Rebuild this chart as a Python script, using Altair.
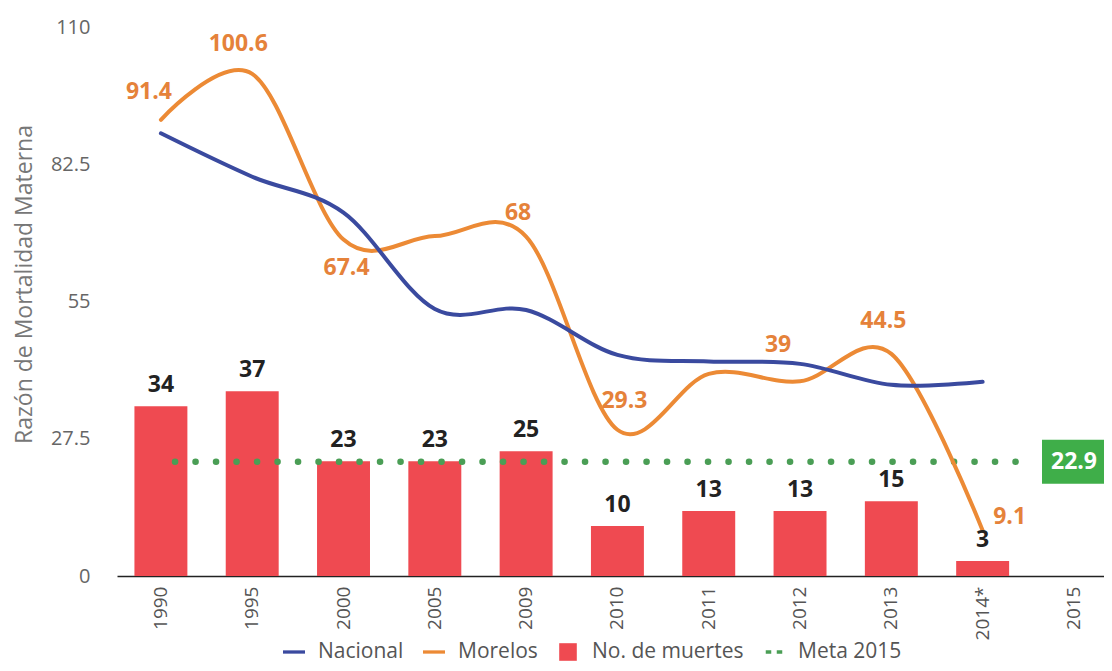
import altair as alt
import pandas as pd

years = ["1990", "1995", "2000", "2005", "2009", "2010", "2011", "2012", "2013", "2014*", "2015"]
data_years = ["1990", "1995", "2000", "2005", "2009", "2010", "2011", "2012", "2013", "2014*"]
nacional = [88.7, 80.0, 72.8, 53.5, 53.3, 44.3, 43.0, 42.5, 38.3, 38.9]
morelos = [91.4, 100.6, 67.4, 68.1, 68.0, 29.3, 40.5, 39.0, 44.5, 9.1]
muertes = [34, 37, 23, 23, 25, 10, 13, 13, 15, 3]
meta = 22.9
legend_items = ["Nacional", "Morelos", "No. de muertes", "Meta 2015"]

BLUE = "#3a4a9f"
ORANGE = "#ec8a35"
RED = "#ef4a51"
GREEN = "#4a9e55"
BOX = "#3fae49"
FONT = "Open Sans"

W, H = 987, 549

bars_df = pd.DataFrame({"year": data_years, "muertes": muertes})
lines_df = pd.DataFrame({
    "year": data_years * 2,
    "serie": ["Nacional"] * len(data_years) + ["Morelos"] * len(data_years),
    "valor": nacional + morelos,
})
mor_df = pd.DataFrame({"year": data_years, "valor": morelos,
                       "label": [f"{v:g}" for v in morelos]})
leg_df = pd.DataFrame({"item": legend_items})

x_enc = alt.X(
    "year:N", sort=years, title=None,
    scale=alt.Scale(domain=years, paddingInner=0.42, paddingOuter=0.115, align=0.83),
    axis=alt.Axis(labelAngle=-90, labelPadding=10, ticks=False, domainColor="#222",
                  domainWidth=1.5, labelFont=FONT, labelFontSize=19, labelColor="#555"),
)

Y_TITLE = "Razón de Mortalidad Materna"
y_scale = alt.Scale(domain=[0, 110], nice=False, zero=True)
y_axis = alt.Axis(values=[0, 27.5, 55, 82.5, 110], labelExpr="toString(datum.value)",
                  ticks=False, domain=False, grid=False, labelPadding=27, labelFont=FONT,
                  labelFontSize=20, labelColor="#666", titleFont=FONT, titleFontSize=23,
                  titleFontWeight="normal", titleColor="#777", titleX=-93, titleY=257,
                  titleBaseline="middle")


def y_enc(field):
    return alt.Y(field, scale=y_scale, axis=y_axis, title=Y_TITLE)


bars = alt.Chart(bars_df).mark_bar(color=RED).encode(x=x_enc, y=y_enc("muertes:Q"))
bar_labels = alt.Chart(bars_df).mark_text(
    dy=-21, font=FONT, fontSize=23, fontWeight="bold", color="#222"
).encode(x=x_enc, y=y_enc("muertes:Q"), text="muertes:Q")

meta_rule = alt.Chart(pd.DataFrame({"m": [meta]})).mark_rule(
    color=GREEN, strokeWidth=6.5, strokeDash=[0.1, 20.4], strokeCap="round"
).encode(y=y_enc("m:Q"), x=alt.value(58), x2=alt.value(918))

box_shape = "M-1,-0.71H1V0.71H-1Z"
meta_box = alt.Chart(pd.DataFrame({"m": [meta]})).mark_point(
    shape=box_shape, size=62 * 62, filled=True, color=BOX, opacity=1, strokeWidth=0
).encode(y=y_enc("m:Q"), x=alt.value(956))
meta_text = alt.Chart(pd.DataFrame({"m": [meta], "t": [f"{meta:g}"]})).mark_text(
    font=FONT, fontSize=23, fontWeight="bold", color="white"
).encode(y=y_enc("m:Q"), x=alt.value(957), text="t:N")

line_mor = alt.Chart(lines_df).transform_filter(alt.datum.serie == "Morelos").mark_line(
    color=ORANGE, strokeWidth=4, interpolate="cardinal", strokeCap="round"
).encode(x=x_enc, y=y_enc("valor:Q"))
line_nac = alt.Chart(lines_df).transform_filter(alt.datum.serie == "Nacional").mark_line(
    color=BLUE, strokeWidth=4, interpolate="cardinal", strokeCap="round"
).encode(x=x_enc, y=y_enc("valor:Q"))


def mor_label(sel, dx, dy):
    return alt.Chart(mor_df).transform_filter(
        alt.FieldOneOfPredicate(field="year", oneOf=sel)
    ).mark_text(dx=dx, dy=dy, font=FONT, fontSize=23, fontWeight="bold", color="#e5823a").encode(
        x=x_enc, y=y_enc("valor:Q"), text="label:N")


labels = [
    mor_label(["1990"], -12, -28),
    mor_label(["1995"], -14, -30),
    mor_label(["2000"], 3, 28),
    mor_label(["2009"], -8, -24),
    mor_label(["2010"], 7, -29),
    mor_label(["2012"], -22, -36),
    mor_label(["2013"], -8, -33),
    mor_label(["2014*"], 27, -14),
]

line_sym = "M-1,-0.15H1V0.15H-1Z"
shapes = [line_sym, line_sym, "M-0.8,-0.8H0.8V0.8H-0.8Z",
          "M-0.75,-0.15H-0.25V0.15H-0.75ZM0.25,-0.15H0.75V0.15H0.25Z"]
colors = [BLUE, ORANGE, RED, GREEN]
leg = alt.Legend(orient="none", legendX=166, legendY=614, direction="horizontal", title=None,
                 labelFont=FONT, labelFontSize=21, labelColor="#555", symbolSize=484,
                 symbolOpacity=1, symbolStrokeWidth=0, columnPadding=19, labelOffset=13)
legend_layer = alt.Chart(leg_df).mark_point(filled=True, opacity=0).encode(
    x=alt.value(0), y=alt.value(0),
    color=alt.Color("item:N", scale=alt.Scale(domain=legend_items, range=colors), legend=leg),
    shape=alt.Shape("item:N", scale=alt.Scale(domain=legend_items, range=shapes), legend=leg),
)

chart = alt.layer(
    bars, meta_rule, line_mor, line_nac, bar_labels, *labels, meta_box, meta_text, legend_layer
).properties(
    width=W, height=H,
    padding={"left": 109, "top": 19, "right": 0, "bottom": 87},
    autosize=alt.AutoSizeParams(type="none"),
).configure(background="white").configure_view(stroke=None)

chart.save("out.html", embed_options={"renderer": "svg", "actions": False})
